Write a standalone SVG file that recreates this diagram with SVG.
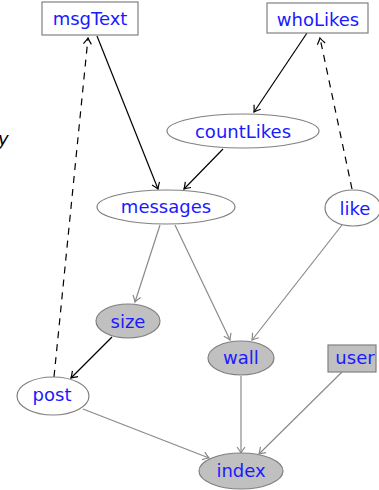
<svg xmlns="http://www.w3.org/2000/svg" width="379" height="490" viewBox="0 0 379 490">
<style>
.lbl{font-family:"DejaVu Sans",sans-serif;font-size:18px;fill:#1a1aff;text-anchor:middle;dominant-baseline:central}
.n{stroke:#808080;stroke-width:1.2;fill:#fff}
.g{fill:#c0c0c0}
.eb{stroke:#000;stroke-width:1.2;fill:none}
.eg{stroke:#8a8a8a;stroke-width:1.2;fill:none}
.dash{stroke-dasharray:7,6}
</style>
<defs>
<marker id="ab" markerUnits="userSpaceOnUse" markerWidth="14" markerHeight="14" viewBox="-8 -7 10 14" refX="0" refY="0" orient="auto">
<path d="M-6,-4 Q-2,-1 0,0 Q-2,1 -6,4" fill="none" stroke="#000" stroke-width="1.2"/>
</marker>
<marker id="ag" markerUnits="userSpaceOnUse" markerWidth="14" markerHeight="14" viewBox="-8 -7 10 14" refX="0" refY="0" orient="auto">
<path d="M-6,-4 Q-2,-1 0,0 Q-2,1 -6,4" fill="none" stroke="#8a8a8a" stroke-width="1.2"/>
</marker>
</defs>
<text x="-2" y="138" style="font-family:'DejaVu Sans',sans-serif;font-size:18px;font-style:italic;fill:#000;dominant-baseline:central">y</text>
<g id="connectors">
<line class="eb" x1="97" y1="36" x2="158" y2="189" marker-end="url(#ab)"/>
<line class="eb dash" x1="54" y1="377" x2="88" y2="38" marker-end="url(#ab)"/>
<line class="eb" x1="307" y1="33" x2="254" y2="112" marker-end="url(#ab)"/>
<line class="eb dash" x1="352" y1="189" x2="320" y2="38" marker-end="url(#ab)"/>
<line class="eb" x1="223" y1="149" x2="184" y2="189" marker-end="url(#ab)"/>
<line class="eg" x1="160" y1="225" x2="135" y2="302" marker-end="url(#ag)"/>
<line class="eg" x1="175" y1="225" x2="230" y2="340" marker-end="url(#ag)"/>
<line class="eg" x1="342" y1="225" x2="252" y2="340" marker-end="url(#ag)"/>
<line class="eb" x1="112" y1="337" x2="71" y2="378" marker-end="url(#ab)"/>
<line class="eg" x1="241" y1="376" x2="241" y2="453" marker-end="url(#ag)"/>
<line class="eg" x1="342" y1="372" x2="259" y2="454" marker-end="url(#ag)"/>
<line class="eg" x1="83" y1="409" x2="209" y2="458" marker-end="url(#ag)"/>
</g>
<g id="msgText"><rect class="n" x="42" y="2" width="96" height="33"/><text class="lbl" x="90" y="18">msgText</text></g>
<g id="whoLikes"><rect class="n" x="267" y="3" width="101" height="30"/><text class="lbl" x="318" y="19">whoLikes</text></g>
<g id="countLikes"><ellipse class="n" cx="243" cy="131" rx="76" ry="17"/><text class="lbl" x="243" y="131">countLikes</text></g>
<g id="messages"><ellipse class="n" cx="166" cy="207" rx="69" ry="17"/><text class="lbl" x="166" y="206">messages</text></g>
<g id="like"><ellipse class="n" cx="353" cy="208" rx="28" ry="18"/><text class="lbl" x="355" y="208">like</text></g>
<g id="size"><ellipse class="n g" cx="128" cy="321" rx="32" ry="17"/><text class="lbl" x="128" y="321">size</text></g>
<g id="wall"><ellipse class="n g" cx="241" cy="358" rx="33" ry="17"/><text class="lbl" x="241" y="357">wall</text></g>
<g id="user"><rect class="n g" x="328" y="345" width="48" height="27"/><text class="lbl" x="355" y="357">user</text></g>
<g id="post"><ellipse class="n" cx="53" cy="396" rx="36" ry="19"/><text class="lbl" x="52" y="394">post</text></g>
<g id="index"><ellipse class="n g" cx="241" cy="471" rx="42" ry="18"/><text class="lbl" x="241" y="470">index</text></g>
</svg>
